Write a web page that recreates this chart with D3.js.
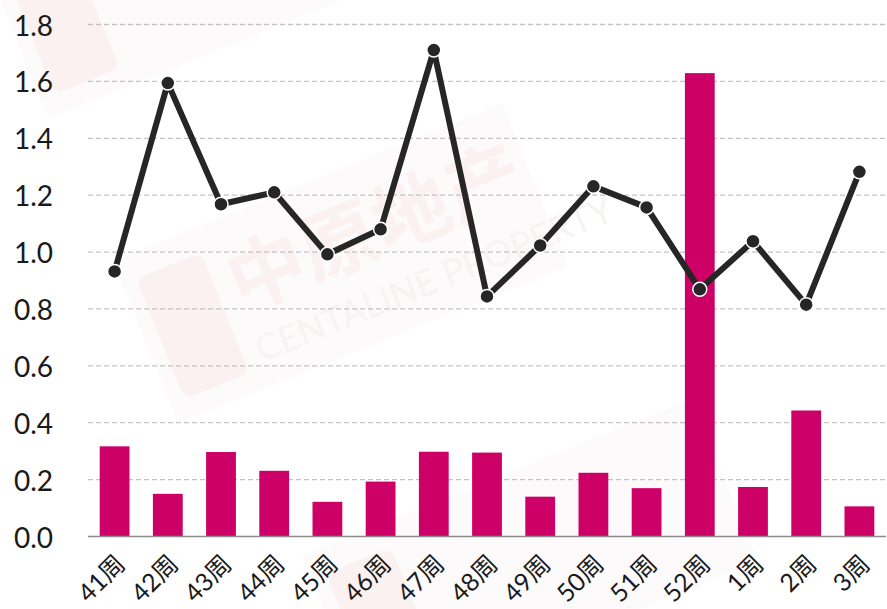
<!DOCTYPE html>
<html>
<head>
<meta charset="utf-8">
<title>周度数据</title>
<style>
  body { margin: 0; background: #fff; }
  svg { display: block; font-family: "Lato", "Noto Sans CJK SC", sans-serif; }
</style>
</head>
<body>
<svg id="chart" width="887" height="609"></svg>
<script src="https://d3js.org/d3.v7.min.js"></script>
<script>
// data
let weeks = ["41周","42周","43周","44周","45周","46周","47周","48周","49周","50周","51周","52周","1周","2周","3周"];
let barValues = [0.317, 0.150, 0.297, 0.231, 0.122, 0.193, 0.298, 0.295, 0.140, 0.224, 0.170, 1.629, 0.174, 0.443, 0.106];
let lineValues = [0.932, 1.594, 1.168, 1.210, 0.992, 1.080, 1.710, 0.844, 1.023, 1.231, 1.157, 0.869, 1.038, 0.815, 1.282];
let yTicks = [0, 0.2, 0.4, 0.6, 0.8, 1.0, 1.2, 1.4, 1.6, 1.8];

let svg = d3.select("#chart");
let plotLeft = 88, plotRight = 886, plotTop = 24.5, plotBottom = 536.5;

let x = d3.scaleBand().domain(weeks).range([plotLeft, plotRight]).paddingInner(0.44).paddingOuter(0.22);
let y = d3.scaleLinear().domain([0, 1.8]).range([plotBottom, plotTop]);

// faint watermark panels, drawn first so everything sits on top
let panels = [[330, 265], [200, -40], [520, 560]];
let wm = svg.append("g").selectAll("g")
    .data(panels)
    .join("g")
    .attr("transform", d => `translate(${d[0]},${d[1]}) rotate(-22)`);
wm.append("rect")
    .attr("x", -200).attr("y", -85).attr("width", 420).attr("height", 175)
    .attr("fill", "#fcfafa");
wm.append("rect")
    .attr("x", -185).attr("y", -60).attr("width", 70).attr("height", 130).attr("rx", 10)
    .attr("fill", "#fcf1f1");

// watermark lettering only on the middle panel
let mid = svg.append("g").attr("transform", "translate(330,265) rotate(-22)");
mid.append("text")
    .attr("x", -100).attr("y", 10)
    .attr("font-size", 78).attr("font-weight", "bold")
    .attr("fill", "#fcf1f1")
    .text("中原地产");
mid.append("text")
    .attr("x", -100).attr("y", 65)
    .attr("font-size", 36)
    .attr("fill", "#f8f3f3")
    .text("CENTALINE PROPERTY");

// gridlines
svg.append("g").selectAll("line")
    .data(yTicks.slice(1))
    .join("line")
    .attr("x1", plotLeft).attr("x2", plotRight)
    .attr("y1", d => y(d)).attr("y2", d => y(d))
    .attr("stroke", "#c4c4c4")
    .attr("stroke-width", 1.3)
    .attr("stroke-dasharray", "5,3");

// y labels
svg.append("g").selectAll("text")
    .data(yTicks)
    .join("text")
    .attr("x", 53).attr("y", d => y(d))
    .attr("text-anchor", "end")
    .attr("dominant-baseline", "central")
    .attr("font-size", 28)
    .attr("fill", "#1a1a1a")
    .text(d => d.toFixed(1));

// bars
svg.append("g").selectAll("rect")
    .data(barValues)
    .join("rect")
    .attr("x", (d, i) => x(weeks[i]))
    .attr("width", x.bandwidth())
    .attr("y", d => y(d))
    .attr("height", d => y(0) - y(d))
    .attr("fill", "#cc0066");

// baseline
svg.append("line")
    .attr("x1", plotLeft).attr("x2", plotRight)
    .attr("y1", y(0)).attr("y2", y(0))
    .attr("stroke", "#8c8c8c").attr("stroke-width", 1.5);

// line + markers
let cx = i => x(weeks[i]) + x.bandwidth() / 2;
let line = d3.line().x((d, i) => cx(i)).y(d => y(d));
svg.append("path")
    .datum(lineValues)
    .attr("d", line)
    .attr("fill", "none")
    .attr("stroke", "#262626")
    .attr("stroke-width", 6)
    .attr("stroke-linejoin", "round");

svg.append("g").selectAll("circle")
    .data(lineValues)
    .join("circle")
    .attr("cx", (d, i) => cx(i))
    .attr("cy", d => y(d))
    .attr("r", 7)
    .attr("fill", "#262626")
    .attr("stroke", "#fff")
    .attr("stroke-width", 1.5);

// x labels, rotated
svg.append("g").selectAll("text")
    .data(weeks)
    .join("text")
    .attr("transform", d => `translate(${x(d) + x.bandwidth() / 2 + 5},${y(0) + 22}) rotate(-45)`)
    .attr("text-anchor", "end")
    .attr("dominant-baseline", "central")
    .attr("font-size", 25)
    .attr("fill", "#1a1a1a")
    .text(d => d);
</script>
</body>
</html>
